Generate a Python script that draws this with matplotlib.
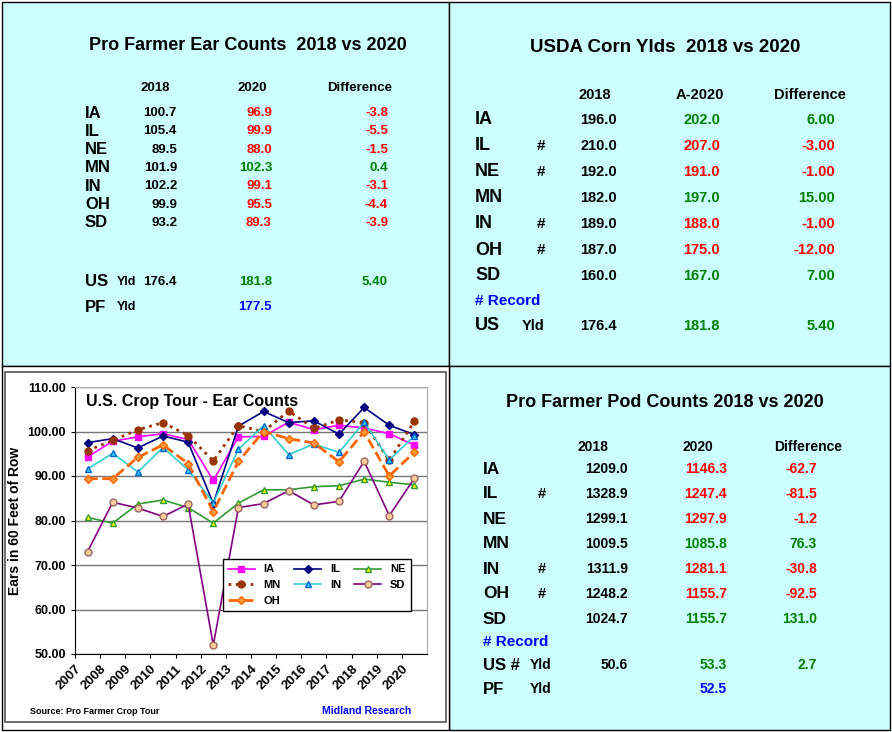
import matplotlib.pyplot as plt
from matplotlib.patches import Rectangle
import numpy as np

W, H = 892, 732

years = [str(y) for y in range(2007, 2021)]
ia = [94.3, 97.8, 98.8, 99.5, 98.2, 89.0, 98.8, 98.9, 102.1, 100.4, 101.4, 100.8, 99.5, 96.9]
il = [97.5, 98.4, 96.3, 99.0, 97.6, 83.8, 101.2, 104.5, 102.0, 102.4, 99.4, 105.4, 101.4, 99.3]
ne = [80.7, 79.4, 83.7, 84.6, 82.9, 79.4, 83.9, 86.9, 86.9, 87.6, 87.8, 89.3, 88.6, 88.0]
mn = [95.7, 98.0, 100.4, 102.0, 99.1, 93.4, 101.3, 100.0, 104.6, 100.7, 102.6, 102.0, 93.5, 102.3]
in_ = [91.6, 95.1, 90.9, 96.4, 91.4, 84.0, 96.0, 101.3, 94.8, 97.2, 95.3, 102.1, 93.6, 99.0]
sd = [73.0, 84.1, 82.8, 80.9, 83.7, 52.0, 82.9, 83.8, 86.7, 83.5, 84.3, 93.3, 81.1, 89.5]
oh = [89.4, 89.4, 94.2, 97.0, 92.8, 82.0, 93.3, 100.0, 98.4, 97.4, 93.2, 99.9, 90.0, 95.4]

states = ["IA", "IL", "NE", "MN", "IN", "OH", "SD"]
ear_2018 = ["100.7", "105.4", "89.5", "101.9", "102.2", "99.9", "93.2"]
ear_2020 = ["96.9", "99.9", "88.0", "102.3", "99.1", "95.5", "89.3"]
ear_diff = ["-3.8", "-5.5", "-1.5", "0.4", "-3.1", "-4.4", "-3.9"]

yld_2018 = ["196.0", "210.0", "192.0", "182.0", "189.0", "187.0", "160.0"]
yld_2020 = ["202.0", "207.0", "191.0", "197.0", "188.0", "175.0", "167.0"]
yld_diff = ["6.00", "-3.00", "-1.00", "15.00", "-1.00", "-12.00", "7.00"]
yld_rec = ["", "#", "#", "", "#", "#", ""]

pod_2018 = ["1209.0", "1328.9", "1299.1", "1009.5", "1311.9", "1248.2", "1024.7"]
pod_2020 = ["1146.3", "1247.4", "1297.9", "1085.8", "1281.1", "1155.7", "1155.7"]
pod_diff = ["-62.7", "-81.5", "-1.2", "76.3", "-30.8", "-92.5", "131.0"]
pod_rec = ["", "#", "", "", "#", "#", ""]

RED = "#ff0000"
GREEN = "#008000"
BLUE = "#0000ff"
BG = "#ccffff"

fig = plt.figure(figsize=(W / 100, H / 100), dpi=100)
fig.patch.set_facecolor("white")


def px(x, y):
    return x / W, 1 - y / H


def txt(x, y, s, ha="left", size=10, color="black"):
    fig.text(*px(x, y), s, ha=ha, va="center", fontsize=size, color=color,
             weight="bold", family="Liberation Sans")


def val_color(v):
    return RED if v.startswith("-") else GREEN


def rect(x0, y0, x1, y1, fc, ec="black", lw=1.0):
    fig.add_artist(Rectangle(px(x0, y1), (x1 - x0) / W, (y1 - y0) / H,
                             transform=fig.transFigure, facecolor=fc,
                             edgecolor=ec, lw=lw, zorder=0))


# panel backgrounds
rect(2, 2, 449, 366, BG)
rect(449, 2, 890, 366, BG)
rect(449, 366, 890, 730, BG)
rect(2, 366, 449, 730, "white")
rect(5, 372, 446, 722, "white", ec="#555555", lw=1.2)

# top-left: ear counts
txt(248, 45, "Pro Farmer Ear Counts  2018 vs 2020", ha="center", size=13)
txt(155, 88, "2018", ha="center", size=9.5)
txt(252, 88, "2020", ha="center", size=9.5)
txt(360, 88, "Difference", ha="center", size=9.5)
for i, s in enumerate(states):
    y = 113 + i * 18.3
    txt(85, y, s, size=12)
    txt(177, y, ear_2018[i], ha="right", size=9.5)
    txt(272, y, ear_2020[i], ha="right", size=9.5, color=val_color(ear_diff[i]))
    txt(388, y, ear_diff[i], ha="right", size=9.5, color=val_color(ear_diff[i]))
txt(85, 282, "US", size=12)
txt(117, 282, "Yld", size=9)
txt(177, 282, "176.4", ha="right", size=9.5)
txt(272, 282, "181.8", ha="right", size=9.5, color=GREEN)
txt(388, 282, "5.40", ha="right", size=9.5, color=GREEN)
txt(85, 307, "PF", size=12)
txt(117, 307, "Yld", size=9)
txt(272, 307, "177.5", ha="right", size=9.5, color=BLUE)

# top-right: USDA yields
txt(665, 47, "USDA Corn Ylds  2018 vs 2020", ha="center", size=13.5)
txt(595, 95, "2018", ha="center", size=10.5)
txt(700, 95, "A-2020", ha="center", size=10.5)
txt(810, 95, "Difference", ha="center", size=10.5)
for i, s in enumerate(states):
    y = 120 + i * 26
    txt(475, y, s, size=13)
    txt(537, y, yld_rec[i], size=11)
    txt(617, y, yld_2018[i], ha="right", size=10.5)
    txt(720, y, yld_2020[i], ha="right", size=10.5, color=val_color(yld_diff[i]))
    txt(835, y, yld_diff[i], ha="right", size=10.5, color=val_color(yld_diff[i]))
txt(475, 301, "# Record", size=11, color=BLUE)
txt(475, 326, "US", size=13)
txt(522, 326, "Yld", size=10.5)
txt(617, 326, "176.4", ha="right", size=10.5)
txt(720, 326, "181.8", ha="right", size=10.5, color=GREEN)
txt(835, 326, "5.40", ha="right", size=10.5, color=GREEN)

# bottom-right: pod counts
txt(665, 402, "Pro Farmer Pod Counts 2018 vs 2020", ha="center", size=13)
txt(593, 447, "2018", ha="center", size=10)
txt(698, 447, "2020", ha="center", size=10)
txt(808, 447, "Difference", ha="center", size=10)
for i, s in enumerate(states):
    y = 469 + i * 25
    txt(483, y, s, size=12.5)
    txt(538, y, pod_rec[i], size=10.5)
    txt(628, y, pod_2018[i], ha="right", size=10)
    txt(727, y, pod_2020[i], ha="right", size=10, color=val_color(pod_diff[i]))
    txt(817, y, pod_diff[i], ha="right", size=10, color=val_color(pod_diff[i]))
txt(483, 642, "# Record", size=11, color=BLUE)
txt(483, 665, "US #", size=12)
txt(530, 665, "Yld", size=10)
txt(628, 665, "50.6", ha="right", size=10)
txt(727, 665, "53.3", ha="right", size=10, color=GREEN)
txt(817, 665, "2.7", ha="right", size=10, color=GREEN)
txt(483, 689, "PF", size=12)
txt(530, 689, "Yld", size=10)
txt(727, 689, "52.5", ha="right", size=10, color=BLUE)

# bottom-left: line chart
x0, y0 = px(75, 654)
ax = fig.add_axes([x0, y0, (427 - 75) / W, (654 - 387) / H])
ax.set_facecolor("white")
x = np.arange(len(years)) + 0.5
series = {
    "IA": (ia, "#ff00ff", "-", "s", "#ff00ff", "#ff00ff"),
    "IL": (il, "#000080", "-", "D", "#000080", "#000080"),
    "NE": (ne, "#339933", "-", "^", "#ffff00", "#339933"),
    "MN": (mn, "#993300", ":", "o", "#993300", "#993300"),
    "IN": (in_, "#33cccc", "-", "^", "#33ccff", "#0066cc"),
    "SD": (sd, "#800080", "-", "o", "#ffcc99", "#996666"),
    "OH": (oh, "#ff6600", "--", "D", "#ff9933", "#ff6600"),
}
handles = {}
for name, (vals, c, ls, m, mfc, mec) in series.items():
    lw = 2 if ls != "-" else 1.2
    handles[name], = ax.plot(x, vals, color=c, ls=ls, lw=lw, marker=m,
                             ms=5 if m != "D" else 4, mfc=mfc, mec=mec, label=name)
ax.set_xlim(0, len(years))
ax.set_ylim(50, 110)
ax.set_yticks(np.arange(50, 111, 10))
ax.set_yticklabels([f"{v:.2f}" for v in range(50, 111, 10)], fontsize=9,
                   weight="bold", family="Liberation Sans")
ax.set_xticks(np.arange(len(years)))
ax.set_xticklabels(years, rotation=45, ha="right", rotation_mode="anchor",
                   fontsize=9.5, weight="bold", family="Liberation Sans")
ax.grid(axis="y", color="#777777", lw=1)
ax.set_axisbelow(True)
for sp in ["top", "right"]:
    ax.spines[sp].set_color("#aaaaaa")
ax.tick_params(length=3)
ax.set_ylabel("Ears in 60 Feet of Row", fontsize=10, weight="bold", family="Liberation Sans")
ax.text(0.03, 0.93, "U.S. Crop Tour - Ear Counts", transform=ax.transAxes,
        fontsize=11.5, weight="bold", family="Liberation Sans")
order = ["IA", "MN", "OH", "IL", "IN", "NE", "SD"]
ax.legend([handles[k] for k in order], order, loc="lower right",
          bbox_to_anchor=(0.97, 0.14), ncol=3,
          prop={"weight": "bold", "size": 8, "family": "Liberation Sans"},
          frameon=True, fancybox=False, edgecolor="black", handlelength=2.4,
          columnspacing=1.2, borderpad=0.5, labelspacing=0.5, framealpha=1)
txt(30, 711, "Source: Pro Farmer Crop Tour", size=6.5)
txt(322, 711, "Midland Research", size=7.5, color=BLUE)

fig.savefig("out.png", dpi=100)
